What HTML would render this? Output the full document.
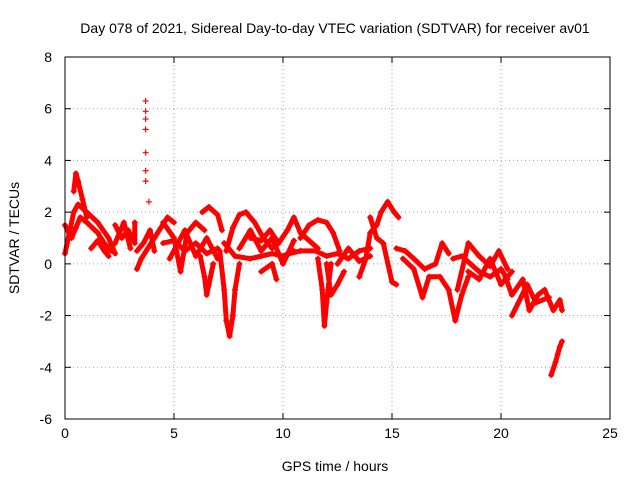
<!DOCTYPE html>
<html><head><meta charset="utf-8"><style>
body{margin:0;background:#fff}
svg text{font-family:"Liberation Sans",sans-serif;font-size:14px;fill:#000}
</style></head><body>
<svg id="c" width="640" height="480" xmlns="http://www.w3.org/2000/svg">
<text x="335" y="33" text-anchor="middle">Day 078 of 2021, Sidereal Day-to-day VTEC variation (SDTVAR) for receiver av01</text>
<text x="335" y="471" text-anchor="middle">GPS time / hours</text>
<text transform="translate(19,238) rotate(-90)" text-anchor="middle">SDTVAR / TECUs</text>
<g id="grid"></g><g id="marks"></g><g id="axes"></g>
</svg>
<script>
const xTicks=[0,5,10,15,20,25];
const yTicks=[-6,-4,-2,0,2,4,6,8];
const spikeX=[3.7,3.7,3.7,3.7,3.7,3.7,3.7,3.85];
const spikeY=[6.3,5.9,5.6,5.2,4.3,3.6,3.2,2.4];
const segments=[
[[0,0.4],[0.2,1.2],[0.4,2.0],[0.6,2.3],[1.0,2.0],[1.5,1.6],[2.0,1.0],[2.3,0.4]],
[[0,1.5],[0.3,1.0],[0.5,1.4],[0.7,1.8],[1.0,1.6],[1.5,1.2],[1.8,0.8],[2.1,0.5]],
[[0.4,2.8],[0.5,3.5],[0.6,3.2],[0.8,2.5],[1.0,1.8]],
[[1.2,0.6],[1.5,0.9],[1.8,0.5],[2.0,0.3]],
[[2.3,1.5],[2.6,1.0],[2.9,1.3],[3.2,0.8],[3.2,1.6]],
[[2.3,0.8],[2.7,1.6],[3.0,0.6]],
[[3.3,-0.2],[3.5,0.2],[3.8,0.6],[4.1,1.0],[4.4,1.4],[4.7,1.8],[5.0,1.6]],
[[3.3,0.5],[3.6,0.8],[3.9,1.3],[4.1,0.5]],
[[4.5,0.8],[5.0,0.9],[5.5,0.5],[6.0,0.8],[6.5,0.4],[7.0,0.6]],
[[4.8,0.2],[5.5,1.3],[6,0.3],[6.5,1.0],[7,0.2]],
[[4.5,1.6],[5.0,1.0],[5.3,-0.3],[5.6,1.2],[6.0,1.6],[6.4,1.3]],
[[6.3,2.0],[6.6,2.2],[7.0,1.9],[7.2,1.3]],
[[6.2,0.3],[6.4,-0.5],[6.5,-1.2],[6.6,-0.8],[6.8,0]],
[[7.1,0.5],[7.3,-1.0],[7.4,-2.2],[7.55,-2.8],[7.7,-2.0],[7.8,-1.0],[8.0,0]],
[[7.4,0.5],[7.7,1.4],[8.0,1.9],[8.3,2.0],[8.7,1.6],[9.1,1.0],[9.5,0.6]],
[[7.3,0.8],[7.8,0.3],[8.5,0.2],[9.0,0.3],[9.5,0.4],[10,0.3],[10.5,0.5]],
[[8,0.6],[8.5,1.3],[9,0.5],[9.5,1.0],[10,0.0],[10.5,0.9]],
[[8.5,1.0],[9.0,0.9],[9.4,1.3],[9.8,0.8],[10.2,1.3],[10.5,1.8],[10.8,1.2],[11.2,0.9],[11.6,0.6]],
[[9.0,-0.3],[9.5,0.0],[9.7,-0.6]],
[[10.3,0.4],[10.8,0.5],[11.5,0.5],[12,0.3],[12.5,0.4],[13,0.2],[13.5,0.5],[14,0.6]],
[[10.8,1.0],[11.2,1.5],[11.6,1.7],[12,1.6],[12.3,1.2],[12.6,0.5]],
[[11.6,0.2],[11.8,-1.0],[11.9,-2.4],[12.0,-1.5],[12.2,0]],
[[12.0,0],[12.2,-1.2],[12.5,-0.8],[12.8,-0.3]],
[[12.5,0.0],[13,0.6],[13.5,0.1],[14,0.3]],
[[13.5,-0.5],[13.8,0.2],[14.0,1.2],[14.3,1.5],[14.5,2.0],[14.8,2.4],[15.1,2.0],[15.3,1.8]],
[[14,1.8],[14.3,1.0],[14.6,0.8],[15.0,-0.7],[15.2,-0.8]],
[[15.2,0.6],[15.6,0.5],[16,0.2],[16.5,-0.2],[17,0],[17.3,0.8],[17.6,0.4]],
[[15.5,0.2],[16,-0.2],[16.4,-1.3],[16.7,-0.5],[17.2,-0.5],[17.6,-1.0],[17.9,-2.2],[18.2,-1.2],[18.5,-0.5]],
[[17.8,0.2],[18.2,0.3],[18.6,0],[19,-0.3],[19.5,-0.5],[20,-0.2],[20.3,-0.6]],
[[18.5,-0.3],[19,-0.6],[19.5,0.2],[20,-0.8],[20.5,-0.3]],
[[18.0,-1.0],[18.5,0.8],[19,0.3],[19.5,-0.1],[19.9,0.5],[20.3,-0.2]],
[[20.2,-0.5],[20.5,-1.2],[21,-0.6],[21.3,-1.8],[21.7,-1.2],[22,-1.0],[22.4,-1.8],[22.7,-1.4],[22.8,-1.8]],
[[20.5,-2.0],[20.8,-1.5],[21.2,-0.8],[21.6,-1.5],[22.2,-1.3]],
[[22.3,-4.3],[22.5,-3.8],[22.6,-3.5],[22.7,-3.2],[22.8,-3.0]]
];
const L=65,R=610,T=57,B=419;
const xs=v=>L+(v-0)/(25-0)*(R-L);
const ys=v=>B-(v+6)/(8+6)*(B-T);
const NS="http://www.w3.org/2000/svg";
function mk(tag,attrs,parent){const e=document.createElementNS(NS,tag);for(const k in attrs)e.setAttribute(k,attrs[k]);parent.appendChild(e);return e;}
const grid=document.getElementById('grid'),marks=document.getElementById('marks'),axes=document.getElementById('axes');
xTicks.forEach(t=>{
 const x=xs(t);
 if(t>0&&t<25){const g=mk('line',{x1:x,x2:x,y1:T,y2:B,stroke:'#a0a0a0','stroke-dasharray':'1,3'},grid);
 
 }
 mk('line',{x1:x,x2:x,y1:B,y2:B-6,stroke:'#000'},axes);mk('line',{x1:x,x2:x,y1:T,y2:T+6,stroke:'#000'},axes);
 const tx=mk('text',{x:x,y:B+19,'text-anchor':'middle'},axes);tx.textContent=t;
 
 
});
yTicks.forEach(t=>{
 const y=ys(t);
 if(t>-6&&t<8){const g=mk('line',{x1:L,x2:R,y1:y,y2:y,stroke:'#a0a0a0','stroke-dasharray':'1,3'},grid);
 
 }
 mk('line',{x1:L,x2:L+6,y1:y,y2:y,stroke:'#000'},axes);mk('line',{x1:R,x2:R-6,y1:y,y2:y,stroke:'#000'},axes);
 const tx=mk('text',{x:L-13,y:y+5,'text-anchor':'end'},axes);tx.textContent=t;
 
 
});
const fr=mk('rect',{x:L,y:T,width:R-L,height:B-T,fill:'none',stroke:'#000'},axes);


function cross(x,y){const p=mk('path',{d:`M${x-3},${y}h6M${x},${y-3}v6`,stroke:'#f00','stroke-width':1.2},marks);
 
 }
segments.forEach(seg=>{
 const pl=mk('polyline',{points:seg.map(p=>xs(p[0])+','+ys(p[1])).join(' '),fill:'none',stroke:'#f00','stroke-width':5,'stroke-linejoin':'round','stroke-linecap':'round'},marks);
 
 
 seg.forEach(p=>cross(xs(p[0]),ys(p[1])));
});
spikeX.forEach((x,i)=>cross(xs(x),ys(spikeY[i])));
</script>
</body></html>
